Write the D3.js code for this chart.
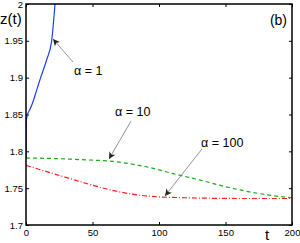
<!DOCTYPE html>
<html>
<head>
<meta charset="utf-8">
<script src="https://cdn.jsdelivr.net/npm/d3@7"></script>
<style>
  body { margin: 0; background: #fff; }
  svg { display: block; font-family: "Liberation Sans", Arial, sans-serif; }
</style>
</head>
<body>
<div id="chart"></div>
<script>
// DATA
const alpha1T = [0, 0.3, 1, 3, 5, 8, 11, 15.5, 19.3, 20.8, 21.8, 22.5];
const alpha1Z = [1.79, 1.842, 1.849, 1.857, 1.866, 1.883, 1.9, 1.924, 1.95, 1.978, 2.0, 2.02];

const alpha10T = [0, 25, 50, 62, 75, 93, 110, 131, 150, 168, 185, 200];
const alpha10Z = [1.791, 1.790, 1.788, 1.787, 1.784, 1.778, 1.770, 1.761, 1.752, 1.745, 1.740, 1.737];

const alpha100T = [0, 33, 50, 70, 93, 120, 160, 200];
const alpha100Z = [1.781, 1.763, 1.754, 1.745, 1.739, 1.737, 1.736, 1.736];

const xTicks = [0, 50, 100, 150, 200];
const yTicks = [1.7, 1.75, 1.8, 1.85, 1.9, 1.95, 2];

// annotations: label, text pos, arrow start, arrow tip (data coords)
const notes = [
  { label: 'α = 1',   tx: 36.1,  tz: 1.9036, x1: 35.3,  z1: 1.9213, x2: 20.3,  z2: 1.9525 },
  { label: 'α = 10',  tx: 66.9,  tz: 1.848,  x1: 79,    z1: 1.8412, x2: 62.4,  z2: 1.7896 },
  { label: 'α = 100', tx: 131.6, tz: 1.8059, x1: 132.3, z1: 1.8032, x2: 104.5, z2: 1.7394 }
];

// DIMENSIONS
const width = 300, height = 243;
const margin = { top: 4, right: 8, bottom: 18, left: 26 };

const svg = d3.select('#chart').append('svg')
  .attr('width', width)
  .attr('height', height);

const x = d3.scaleLinear().domain([0, 200]).range([margin.left, width - margin.right]);
const y = d3.scaleLinear().domain([1.7, 2]).range([height - margin.bottom, margin.top]);

const fmt = d => String(+d.toFixed(2));

svg.append('defs').append('clipPath').attr('id', 'clip')
  .append('rect')
  .attr('x', margin.left).attr('y', margin.top)
  .attr('width', x(200) - x(0)).attr('height', y(1.7) - y(2));

svg.append('defs').append('marker')
  .attr('id', 'head')
  .attr('viewBox', '0 0 10 10')
  .attr('refX', 10).attr('refY', 5)
  .attr('markerWidth', 7).attr('markerHeight', 7)
  .attr('markerUnits', 'userSpaceOnUse')
  .attr('orient', 'auto')
  .append('path')
  .attr('d', 'M0,0 L10,5 L0,10 L3,5 Z')
  .style('fill', '#222');

// AXES (inward ticks, boxed)
const axisStyle = g => {
  g.select('.domain').remove();
  g.selectAll('line').style('stroke', '#000').style('stroke-width', 1);
  g.selectAll('text').style('font-size', '9.5px').style('fill', '#000');
};

svg.append('g')
  .attr('transform', `translate(0,${y(1.7)})`)
  .call(d3.axisBottom(x).tickValues(xTicks).tickFormat(fmt).tickSize(-3).tickPadding(4))
  .call(axisStyle);

svg.append('g')
  .attr('transform', `translate(0,${y(2)})`)
  .call(d3.axisTop(x).tickValues(xTicks).tickFormat('').tickSize(-3))
  .call(axisStyle);

svg.append('g')
  .attr('transform', `translate(${x(0)},0)`)
  .call(d3.axisLeft(y).tickValues(yTicks).tickFormat(fmt).tickSize(-3).tickPadding(3))
  .call(axisStyle);

svg.append('g')
  .attr('transform', `translate(${x(200)},0)`)
  .call(d3.axisRight(y).tickValues(yTicks).tickFormat('').tickSize(-3))
  .call(axisStyle);

// LINES
const line = d3.line()
  .x(d => x(d[0]))
  .y(d => y(d[1]))
  .curve(d3.curveMonotoneX);

const series = [
  { t: alpha1T, z: alpha1Z, color: '#1f3dff', dash: null },
  { t: alpha10T, z: alpha10Z, color: '#1faa1f', dash: '4,3' },
  { t: alpha100T, z: alpha100Z, color: '#ff2020', dash: '5,2,1,2' }
];

series.forEach(s => {
  svg.append('path')
    .datum(s.t.map((t, i) => [t, s.z[i]]))
    .attr('clip-path', 'url(#clip)')
    .attr('d', line)
    .style('fill', 'none')
    .style('stroke', s.color)
    .style('stroke-width', 1.2)
    .style('stroke-dasharray', s.dash);
});

// frame
svg.append('rect')
  .attr('x', x(0)).attr('y', y(2))
  .attr('width', x(200) - x(0)).attr('height', y(1.7) - y(2))
  .style('fill', 'none')
  .style('stroke', '#000')
  .style('stroke-width', 1.5);

// ANNOTATIONS
notes.forEach(n => {
  svg.append('line')
    .attr('x1', x(n.x1)).attr('y1', y(n.z1))
    .attr('x2', x(n.x2)).attr('y2', y(n.z2))
    .style('stroke', '#777')
    .style('stroke-width', 0.8)
    .attr('marker-end', 'url(#head)');
  svg.append('text')
    .attr('x', x(n.tx)).attr('y', y(n.tz))
    .style('font-size', '12.5px')
    .text(n.label);
});

// LABELS
svg.append('text')
  .attr('x', 0).attr('y', 24)
  .style('font-size', '15px')
  .text('z(t)');

svg.append('text')
  .attr('x', 287).attr('y', 25)
  .attr('text-anchor', 'end')
  .style('font-size', '14px')
  .text('(b)');

svg.append('text')
  .attr('x', 265).attr('y', 240)
  .style('font-size', '15px')
  .text('t');
</script>
</body>
</html>
